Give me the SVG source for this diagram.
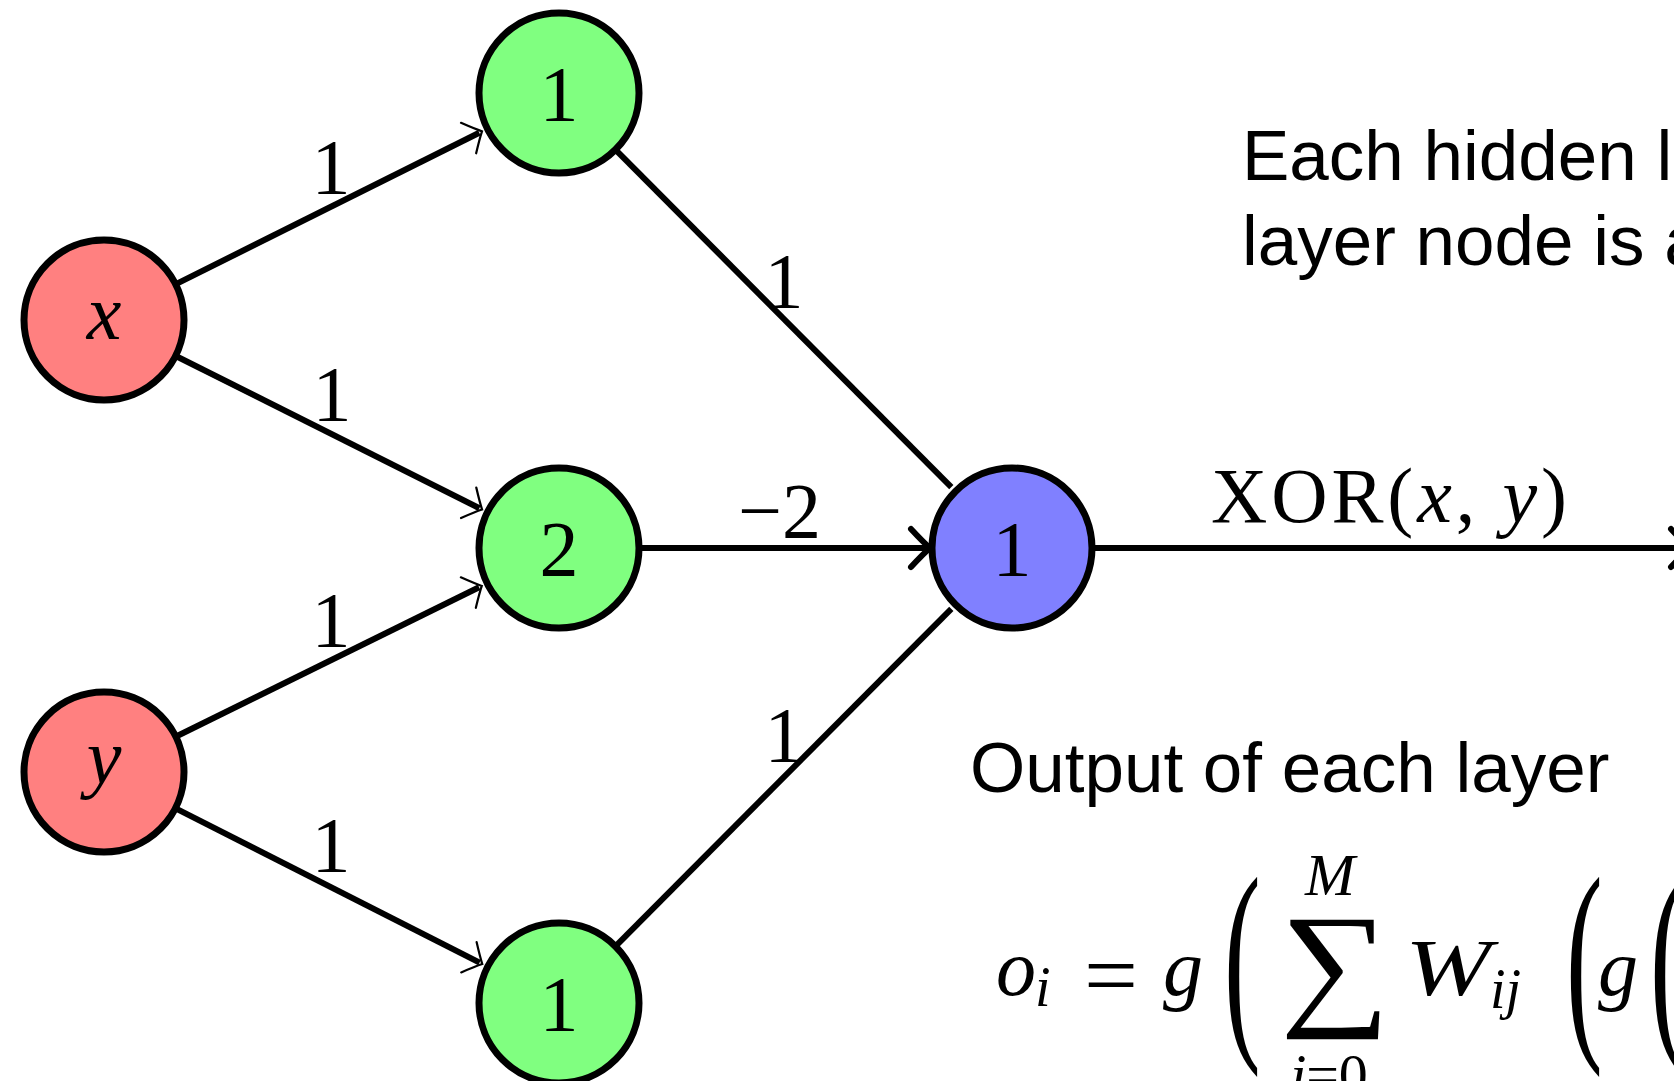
<svg xmlns="http://www.w3.org/2000/svg" width="1674" height="1081" viewBox="0 0 1674 1081">
<defs>
<style>
.node{stroke:#000;stroke-width:7}
.in{fill:#ff8080}
.hid{fill:#80ff80}
.out{fill:#8080ff}
.edge{stroke:#000;stroke-width:6;fill:none}
.thin{marker-end:url(#arrThin)}
.bold{marker-end:url(#arrBold)}
.m{font-family:"Liberation Serif","DejaVu Serif",serif;font-size:78px;fill:#000}
.it{font-style:italic}
.mid{text-anchor:middle}
.sans{font-family:"Liberation Sans",Arial,sans-serif;font-size:71px;fill:#000}
</style>
<marker id="arrThin" viewBox="-25 -25 30 50" markerWidth="30" markerHeight="50" refX="-3" refY="0" markerUnits="userSpaceOnUse" orient="auto" overflow="visible">
<path d="M-15,-17 Q-5,-5 0,0 Q-5,5 -15,17" fill="none" stroke="#000" stroke-width="2.2" stroke-linecap="round"/>
</marker>
<marker id="arrBold" viewBox="-25 -25 30 50" markerWidth="30" markerHeight="50" refX="-3" refY="0" markerUnits="userSpaceOnUse" orient="auto" overflow="visible">
<path d="M-19,-19 Q-6,-5 0,0 Q-6,5 -19,19" fill="none" stroke="#000" stroke-width="6" stroke-linecap="round" stroke-linejoin="round"/>
</marker>
</defs>
<rect width="1674" height="1081" fill="#fff"/>
<g id="connectors">
<line class="edge thin" x1="177.4" y1="283.4" x2="479.3" y2="132.7"/>
<line class="edge thin" x1="177.3" y1="356.7" x2="479.4" y2="508.2"/>
<line class="edge thin" x1="177.6" y1="735.8" x2="479.1" y2="587.3"/>
<line class="edge thin" x1="177.1" y1="809.1" x2="479.6" y2="962.7"/>
<line class="edge" x1="616.9" y1="151.1" x2="951.3" y2="487.1"/>
<line class="edge" x1="616.9" y1="944.9" x2="951.3" y2="608.9"/>
<line class="edge bold" x1="641" y1="548" x2="927" y2="548"/>
<line class="edge bold" x1="1094" y1="548" x2="1687" y2="548"/>
<text class="m mid" x="331" y="193">1</text>
<text class="m mid" x="332" y="420">1</text>
<text class="m mid" x="331" y="646">1</text>
<text class="m mid" x="331" y="871">1</text>
<text class="m mid" x="784" y="307">1</text>
<text class="m mid" x="784" y="761">1</text>
<text class="m" x="738" y="537">−2</text>
<text class="m" x="1211" y="522" font-size="82" textLength="356" lengthAdjust="spacing">XOR(<tspan class="it">x</tspan>, <tspan class="it">y</tspan>)</text>
</g>
<g id="node-x">
<circle class="node in" cx="104" cy="320" r="80"/>
<text class="m it mid" x="104" y="339">x</text>
</g>
<g id="node-y">
<circle class="node in" cx="104" cy="772" r="80"/>
<text class="m it mid" x="104" y="783">y</text>
</g>
<g id="node-h1">
<circle class="node hid" cx="559" cy="93" r="80"/>
<text class="m mid" x="559" y="120">1</text>
</g>
<g id="node-h2">
<circle class="node hid" cx="559" cy="548" r="80"/>
<text class="m mid" x="559" y="575">2</text>
</g>
<g id="node-h3">
<circle class="node hid" cx="559" cy="1003" r="80"/>
<text class="m mid" x="559" y="1030">1</text>
</g>
<g id="node-out">
<circle class="node out" cx="1012" cy="548" r="80"/>
<text class="m mid" x="1012" y="575">1</text>
</g>
<g id="note-hidden">
<text class="sans" x="1242" y="180">Each hidden l</text>
<text class="sans" x="1242" y="265">layer node is a</text>
</g>
<g id="note-output">
<text class="sans" x="970" y="792">Output of each layer</text>
</g>
<g id="formula" font-family="Liberation Serif, DejaVu Serif, serif" fill="#000">
<text x="996" y="995" font-size="80" font-style="italic">o</text>
<text x="1035" y="1006" font-size="56" font-style="italic">i</text>
<text x="1084" y="1006" font-size="92" textLength="54" lengthAdjust="spacingAndGlyphs">=</text>
<text x="1163" y="995" font-size="80" font-style="italic">g</text>
<text transform="translate(1224,1030) scale(1,2)" font-size="110">(</text>
<text x="1305" y="895" font-size="60" font-style="italic">M</text>
<text transform="translate(1280,1010) scale(1.12,1)" font-size="138">∑</text>
<text x="1290" y="1094" font-size="58"><tspan font-style="italic">j</tspan>=0</text>
<text x="1405" y="995" font-size="80" font-style="italic" textLength="86" lengthAdjust="spacingAndGlyphs">W</text>
<text x="1490" y="1008" font-size="56" font-style="italic">ij</text>
<text transform="translate(1566,1030) scale(1,2)" font-size="110">(</text>
<text x="1598" y="995" font-size="80" font-style="italic">g</text>
<text transform="translate(1650,1030) scale(1,2)" font-size="110">(</text>
</g>
</svg>
